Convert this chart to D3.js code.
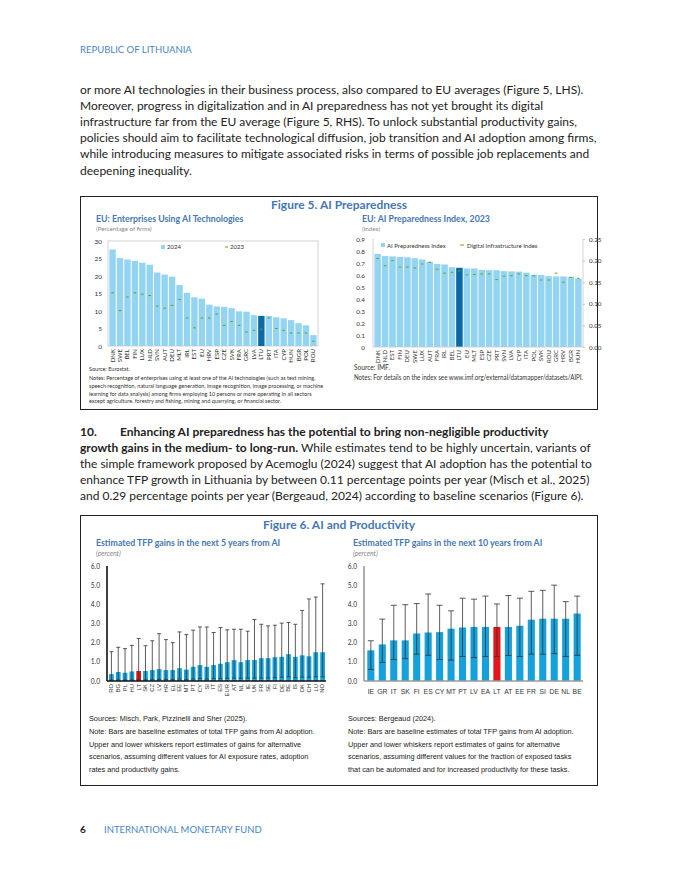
<!DOCTYPE html>
<html><head><meta charset="utf-8">
<script src="https://cdn.jsdelivr.net/npm/d3@7"></script>
<style>
html,body{margin:0;padding:0;background:#fff;}
svg{display:block;}
</style></head>
<body>
<svg id="page" width="680" height="880"></svg>
<script>
// ---------- DATA ----------
const f5lCountries = ["DNK","SWE","BEL","FIN","LUX","NLD","SVN","AUT","DEU","MLT","IRL","EST","EU","HRV","ESP","CZE","SVK","FRA","GRC","LVA","LTU","PRT","ITA","CYP","HUN","BGR","POL","ROU"];
const f5l2024 = [27.6,25.1,24.7,24.3,23.8,23.2,21.0,20.4,19.8,17.4,15.2,13.9,13.5,11.8,11.3,11.2,10.8,9.9,9.8,8.8,8.6,8.6,8.2,7.9,7.4,6.5,5.9,3.1];
const f5l2023 = [15.2,10.1,14.0,15.2,14.8,14.4,11.4,10.8,11.6,13.3,8.0,5.2,8.0,8.0,9.1,5.9,7.0,5.9,4.0,4.5,4.8,8.0,5.0,4.5,3.7,3.7,3.7,1.4];
const f5lTicks = [0,5,10,15,20,25,30];

const f5rCountries = ["DNK","NLD","EST","FIN","DEU","SWE","LUX","AUT","FRA","IRL","BEL","LTU","EU","MLT","ESP","CZE","PRT","SVN","LVA","CYP","ITA","POL","SVK","ROU","GRC","HRV","BGR","HUN"];
const f5rAIPI = [0.775,0.758,0.755,0.750,0.748,0.740,0.730,0.710,0.692,0.688,0.665,0.660,0.655,0.655,0.642,0.640,0.640,0.632,0.630,0.628,0.620,0.602,0.600,0.590,0.588,0.588,0.585,0.570];
const f5rDII = [0.205,0.188,0.200,0.185,0.185,0.183,0.192,0.196,0.180,0.171,0.173,0.176,0.167,0.168,0.169,0.169,0.156,0.164,0.165,0.169,0.165,0.165,0.155,0.155,0.171,0.150,0.161,0.159];
const f5rTicksL = [0,0.1,0.2,0.3,0.4,0.5,0.6,0.7,0.8,0.9];
const f5rTicksR = [0,0.05,0.10,0.15,0.20,0.25];

const f6lCountries = ["RO","BG","PL","HU","LT","SK","CZ","LV","HR","EL","EE","MT","PT","CY","SI","IT","ES","EUR","AT","NL","IE","UK","FR","SE","FI","DE","BE","IS","DK","CH","LU","NO"];
const f6lBase = [0.36,0.47,0.43,0.50,0.52,0.52,0.57,0.62,0.57,0.57,0.67,0.59,0.74,0.83,0.74,0.83,0.90,0.98,1.09,0.98,1.09,1.09,1.19,1.19,1.24,1.26,1.40,1.26,1.34,1.29,1.50,1.50];
const f6lLow  = [0.05,0.05,0.05,0.06,0.07,0.06,0.07,0.08,0.08,0.07,0.10,0.07,0.10,0.12,0.10,0.12,0.12,0.14,0.15,0.14,0.15,0.15,0.15,0.16,0.17,0.20,0.22,0.17,0.20,0.20,0.22,0.22];
const f6lHigh = [1.53,1.76,1.69,1.86,2.22,1.84,2.10,2.47,2.16,2.00,2.56,2.42,2.65,2.82,2.82,2.53,2.79,2.67,2.70,2.70,2.60,3.21,2.96,2.88,2.91,3.02,3.05,2.96,3.68,4.28,4.38,5.07];
const f6Ticks = [0,1,2,3,4,5,6];

const f6rCountries = ["IE","GR","IT","SK","FI","ES","CY","MT","PT","LV","EA","LT","AT","EE","FR","SI","DE","NL","BE"];
const f6rBase = [1.60,1.91,2.12,2.12,2.48,2.53,2.55,2.73,2.79,2.82,2.82,2.82,2.82,2.88,3.20,3.25,3.25,3.25,3.52];
const f6rLow  = [0.60,0.97,1.12,1.17,1.40,1.34,1.12,1.09,1.28,1.22,1.28,1.28,1.33,1.28,1.40,1.40,1.43,1.28,1.34];
const f6rHigh = [2.10,3.23,3.95,3.98,4.04,4.54,3.95,3.66,4.32,4.27,4.43,4.02,4.46,4.32,4.68,4.73,5.00,4.14,4.43];

// ---------- PAGE ----------
const svg = d3.select("#page");
const BODY = "Lato, 'Open Sans', sans-serif";
const SEG = "Lato, 'Open Sans', sans-serif";
const ARIAL = "'Liberation Sans', Arial, sans-serif";
const BLUE = "#4a86c4";
const TITLEBLUE = "#4677b0";

function txt(g, x, y, s, o = {}) {
  const t = g.append("text").attr("x", x).attr("y", y).text(s)
    .attr("font-family", o.ff || BODY).attr("font-size", o.fs || 11)
    .attr("fill", o.fill || "#222");
  if (o.fw) t.attr("font-weight", o.fw);
  if (o.fst) t.attr("font-style", o.fst);
  if (o.anchor) t.attr("text-anchor", o.anchor);
  return t;
}

txt(svg, 80, 53, "REPUBLIC OF LITHUANIA", {fs: 9.5, fill: BLUE});

const para1 = [
  "or more AI technologies in their business process, also compared to EU averages (Figure 5, LHS).",
  "Moreover, progress in digitalization and in AI preparedness has not yet brought its digital",
  "infrastructure far from the EU average (Figure 5, RHS). To unlock substantial productivity gains,",
  "policies should aim to facilitate technological diffusion, job transition and AI adoption among firms,",
  "while introducing measures to mitigate associated risks in terms of possible job replacements and",
  "deepening inequality."
];
para1.forEach((s, i) => txt(svg, 80, 94 + i * 16.1, s, {fs: 12}));

// paragraph 10
{
  const t1 = svg.append("text").attr("x", 80).attr("y", 436).attr("font-family", BODY).attr("font-size", 12).attr("fill", "#222");
  t1.append("tspan").attr("font-weight", "bold").text("10.");
  t1.append("tspan").attr("x", 120).attr("font-weight", "bold").text("Enhancing AI preparedness has the potential to bring non-negligible productivity");
  const t2 = svg.append("text").attr("x", 80).attr("y", 452).attr("font-family", BODY).attr("font-size", 12).attr("fill", "#222");
  t2.append("tspan").attr("font-weight", "bold").text("growth gains in the medium- to long-run.");
  t2.append("tspan").text(" While estimates tend to be highly uncertain, variants of");
  const rest = [
    "the simple framework proposed by Acemoglu (2024) suggest that AI adoption has the potential to",
    "enhance TFP growth in Lithuania by between 0.11 percentage points per year (Misch et al., 2025)",
    "and 0.29 percentage points per year (Bergeaud, 2024) according to baseline scenarios (Figure 6)."
  ];
  rest.forEach((s, i) => txt(svg, 80, 468 + i * 16.1, s, {fs: 12}));
}

// footer
txt(svg, 80, 833, "6", {fs: 10, fw: "bold", fill: "#222"});
txt(svg, 104, 833, "INTERNATIONAL MONETARY FUND", {fs: 9.5, fill: BLUE});

// ---------- FIGURE 5 ----------
svg.append("rect").attr("x", 80.5).attr("y", 196.5).attr("width", 517).attr("height", 213)
  .attr("fill", "none").attr("stroke", "#222").attr("stroke-width", 1);
txt(svg, 339, 209, "Figure 5. AI Preparedness", {fs: 12, fw: "bold", fill: TITLEBLUE, anchor: "middle", ff: SEG});

// Left panel
{
  const g = svg.append("g");
  txt(g, 96, 222, "EU: Enterprises Using AI Technologies", {fs: 8.8, fw: "bold", fill: TITLEBLUE, ff: SEG});
  txt(g, 96, 231, "(Percentage of firms)", {fs: 6.2, fill: "#888", ff: SEG});
  const x0 = 108, x1 = 318, yT = 241, yB = 346;
  const x = d3.scaleBand().domain(f5lCountries).range([x0 + 1, x1 - 1]).paddingInner(0.14).paddingOuter(0.05);
  const y = d3.scaleLinear().domain([0, 30]).range([yB, yT]);
  g.append("rect").attr("x", x0).attr("y", yT).attr("width", x1 - x0).attr("height", yB - yT)
    .attr("fill", "none").attr("stroke", "#c8c8c8").attr("stroke-width", 0.8);
  g.selectAll("rect.b").data(f5lCountries).join("rect").attr("class", "b")
    .attr("x", d => x(d)).attr("width", x.bandwidth())
    .attr("y", (d, i) => y(f5l2024[i])).attr("height", (d, i) => yB - y(f5l2024[i]))
    .attr("fill", d => d === "LTU" ? "#0b6aa6" : "#93d4f3");
  g.selectAll("line.d").data(f5lCountries).join("line").attr("class", "d")
    .attr("x1", d => x(d) + x.bandwidth() * 0.3).attr("x2", d => x(d) + x.bandwidth() * 0.7)
    .attr("y1", (d, i) => y(f5l2023[i])).attr("y2", (d, i) => y(f5l2023[i]))
    .attr("stroke", "#5f9c2e").attr("stroke-width", 1);
  const ya = g.append("g").attr("transform", `translate(${x0},0)`)
    .call(d3.axisLeft(y).tickValues(f5lTicks).tickSize(0).tickPadding(6));
  ya.select(".domain").remove();
  ya.selectAll("text").attr("font-family", SEG).attr("font-size", 6.5).attr("fill", "#333");
  const xa = g.append("g").attr("transform", `translate(0,${yB})`)
    .call(d3.axisBottom(x).tickSize(0).tickPadding(0));
  xa.select(".domain").remove();
  xa.selectAll("text").attr("font-family", SEG).attr("font-size", 6.1).attr("fill", "#333")
    .attr("transform", "rotate(-90)").attr("text-anchor", "end").attr("dx", "-3").attr("dy", "0.32em")
    .attr("x", 0).attr("y", 0);
  // legend
  g.append("rect").attr("x", 161).attr("y", 245).attr("width", 4).attr("height", 4).attr("fill", "#93d4f3");
  txt(g, 167, 249, "2024", {fs: 6, fill: "#333", ff: SEG});
  g.append("line").attr("x1", 225).attr("x2", 228).attr("y1", 247).attr("y2", 247).attr("stroke", "#7a9a2a").attr("stroke-width", 1);
  txt(g, 230, 249, "2023", {fs: 6, fill: "#333", ff: SEG});
  txt(g, 89, 371, "Source: Eurostat.", {fs: 5.5, fill: "#333", ff: SEG});
  const notes = [
    "Notes: Percentage of enterprises using at least one of the AI technologies (such as text mining,",
    "speech recognition, natural language generation, image recognition, image processing, or machine",
    "learning for data analysis) among firms employing 10 persons or more operating in all sectors",
    "except agriculture, forestry and fishing, mining and quarrying, or financial sector."
  ];
  notes.forEach((s, i) => txt(g, 89, 380 + i * 7.8, s, {fs: 5.5, fill: "#333", ff: SEG}));
}

// Right panel
{
  const g = svg.append("g");
  txt(g, 362, 222, "EU: AI Preparedness Index, 2023", {fs: 8.8, fw: "bold", fill: TITLEBLUE, ff: SEG});
  txt(g, 362, 231, "(Index)", {fs: 6.2, fill: "#888", ff: SEG});
  const x0 = 373, x1 = 583, yT = 239, yB = 347;
  const x = d3.scaleBand().domain(f5rCountries).range([x0 + 1, x1 - 1]).paddingInner(0.12).paddingOuter(0.05);
  const yL = d3.scaleLinear().domain([0, 0.9]).range([yB, yT]);
  const yR = d3.scaleLinear().domain([0, 0.25]).range([yB, yT]);
  g.selectAll("rect.b").data(f5rCountries).join("rect").attr("class", "b")
    .attr("x", d => x(d)).attr("width", x.bandwidth())
    .attr("y", (d, i) => yL(f5rAIPI[i])).attr("height", (d, i) => yB - yL(f5rAIPI[i]))
    .attr("fill", d => d === "LTU" ? "#0b6aa6" : "#93d4f3");
  g.selectAll("line.d").data(f5rCountries).join("line").attr("class", "d")
    .attr("x1", d => x(d) + x.bandwidth() * 0.3).attr("x2", d => x(d) + x.bandwidth() * 0.7)
    .attr("y1", (d, i) => yR(f5rDII[i])).attr("y2", (d, i) => yR(f5rDII[i]))
    .attr("stroke", "#6a9e2a").attr("stroke-width", 1);
  g.append("line").attr("x1", x0).attr("x2", x0).attr("y1", yT).attr("y2", yB).attr("stroke", "#c8c8c8").attr("stroke-width", 0.8);
  g.append("line").attr("x1", x1).attr("x2", x1).attr("y1", yT).attr("y2", yB).attr("stroke", "#c8c8c8").attr("stroke-width", 0.8);
  g.append("line").attr("x1", x0).attr("x2", x1).attr("y1", yB).attr("y2", yB).attr("stroke", "#c8c8c8").attr("stroke-width", 0.8);
  const fmtL = d => d === 0 ? "0" : d3.format(".1f")(d);
  const yla = g.append("g").attr("transform", `translate(${x0},0)`)
    .call(d3.axisLeft(yL).tickValues(f5rTicksL).tickFormat(fmtL).tickSize(0).tickPadding(8));
  yla.select(".domain").remove();
  yla.selectAll("text").attr("font-family", SEG).attr("font-size", 6.3).attr("fill", "#333");
  const yra = g.append("g").attr("transform", `translate(${x1},0)`)
    .call(d3.axisRight(yR).tickValues(f5rTicksR).tickFormat(d3.format(".2f")).tickSize(2).tickPadding(4));
  yra.select(".domain").remove();
  yra.selectAll("line").attr("stroke", "#c8c8c8");
  yra.selectAll("text").attr("font-family", SEG).attr("font-size", 6.3).attr("fill", "#333");
  const xa = g.append("g").attr("transform", `translate(0,${yB})`)
    .call(d3.axisBottom(x).tickSize(0).tickPadding(0));
  xa.select(".domain").remove();
  xa.selectAll("text").attr("font-family", SEG).attr("font-size", 6).attr("fill", "#333")
    .attr("transform", "rotate(-90)").attr("text-anchor", "end").attr("dx", "-3").attr("dy", "0.32em")
    .attr("x", 0).attr("y", 0);
  // legend
  g.append("rect").attr("x", 381).attr("y", 243).attr("width", 4).attr("height", 4).attr("fill", "#93d4f3");
  txt(g, 387, 247.5, "AI Preparedness Index", {fs: 6, fill: "#333", ff: SEG});
  g.append("line").attr("x1", 460).attr("x2", 464).attr("y1", 245).attr("y2", 245).attr("stroke", "#7a9a2a").attr("stroke-width", 1);
  txt(g, 467, 247.5, "Digital Infrastructure Index", {fs: 6, fill: "#333", ff: SEG});
  txt(g, 354, 370, "Source: IMF.", {fs: 6.6, fill: "#333", ff: SEG});
  txt(g, 354, 380, "Notes: For details on the index see www.imf.org/external/datamapper/datasets/AIPI.", {fs: 6.6, fill: "#333", ff: SEG})
    .attr("textLength", 229).attr("lengthAdjust", "spacingAndGlyphs");
}

// ---------- FIGURE 6 ----------
svg.append("rect").attr("x", 80.5).attr("y", 515.5).attr("width", 517).attr("height", 270)
  .attr("fill", "none").attr("stroke", "#222").attr("stroke-width", 1);
txt(svg, 339, 529, "Figure 6. AI and Productivity", {fs: 12, fw: "bold", fill: TITLEBLUE, anchor: "middle", ff: SEG});

function errorChart(g, cats, base, low, high, o) {
  const x = d3.scaleBand().domain(cats).range([o.x0 + o.padL, o.x1]).paddingInner(o.pin).paddingOuter(o.pout);
  const y = d3.scaleLinear().domain([0, 6]).range([o.yB, o.yT]);
  g.selectAll("rect.b").data(cats).join("rect").attr("class", "b")
    .attr("x", d => x(d)).attr("width", x.bandwidth())
    .attr("y", (d, i) => y(base[i])).attr("height", (d, i) => o.yB - y(base[i]))
    .attr("fill", d => d === "LT" ? "#e2161b" : "#15a2dc");
  const cw = o.cap;
  const eg = g.selectAll("g.e").data(cats).join("g").attr("class", "e")
    .attr("transform", d => `translate(${x(d) + x.bandwidth() / 2},0)`);
  eg.append("line").attr("y1", (d, i) => y(low[i])).attr("y2", (d, i) => y(high[i]))
    .attr("stroke", "#333").attr("stroke-width", 0.8);
  eg.append("line").attr("x1", -cw / 2).attr("x2", cw / 2).attr("y1", (d, i) => y(high[i])).attr("y2", (d, i) => y(high[i]))
    .attr("stroke", "#333").attr("stroke-width", 0.8);
  eg.append("line").attr("x1", -cw / 2).attr("x2", cw / 2).attr("y1", (d, i) => y(low[i])).attr("y2", (d, i) => y(low[i]))
    .attr("stroke", "#333").attr("stroke-width", 0.8);
  // axes
  g.append("line").attr("x1", o.x0).attr("x2", o.x0).attr("y1", o.yT).attr("y2", o.yB).attr("stroke", o.axisColor).attr("stroke-width", 1.6);
  g.append("line").attr("x1", o.x0).attr("x2", o.x1).attr("y1", o.yB).attr("y2", o.yB).attr("stroke", o.axisColor).attr("stroke-width", 1.6);
  const ya = g.append("g").attr("transform", `translate(${o.x0},0)`)
    .call(d3.axisLeft(y).tickValues(f6Ticks).tickFormat(d3.format(".1f")).tickSize(0).tickPadding(7));
  ya.select(".domain").remove();
  ya.selectAll("text").attr("font-family", SEG).attr("font-size", 6.6).attr("fill", "#333");
  const xa = g.append("g").attr("transform", `translate(0,${o.yB})`)
    .call(d3.axisBottom(x).tickSize(0).tickPadding(o.rot ? 0 : 8));
  xa.select(".domain").remove();
  const t = xa.selectAll("text").attr("font-family", ARIAL).attr("font-size", o.rot ? 5.9 : 6.8).attr("fill", "#333");
  if (o.rot) t.attr("transform", "rotate(-90)").attr("text-anchor", "end").attr("dx", "-3").attr("dy", "0.32em").attr("x", 0).attr("y", 0);
}

{
  const g = svg.append("g");
  txt(g, 96, 546, "Estimated TFP gains in the next 5 years from AI", {fs: 8.8, fw: "bold", fill: "#4677b0", ff: SEG});
  txt(g, 96, 556, "(percent)", {fs: 6.8, fst: "italic", fill: "#888", ff: SEG});
  errorChart(g, f6lCountries, f6lBase, f6lLow, f6lHigh,
    {x0: 107, x1: 326, padL: 1, yT: 566, yB: 681, pin: 0.3, pout: 0.15, cap: 4, axisColor: "#111", rot: true});
  const notes = [
    "Sources: Misch, Park, Pizzinelli and Sher (2025).",
    "Note: Bars are baseline estimates of total TFP gains from AI adoption.",
    "Upper and lower whiskers report estimates of gains for alternative",
    "scenarios, assuming different values for AI exposure rates, adoption",
    "rates and productivity gains."
  ];
  notes.forEach((s, i) => txt(g, 89, 721 + i * 12.8, s, {fs: 7.3, fill: "#222", ff: ARIAL}));
}
{
  const g = svg.append("g");
  txt(g, 353, 546, "Estimated TFP gains in the next 10 years from AI", {fs: 8.8, fw: "bold", fill: "#4677b0", ff: SEG});
  txt(g, 353, 556, "(percent)", {fs: 6.8, fst: "italic", fill: "#888", ff: SEG});
  errorChart(g, f6rCountries, f6rBase, f6rLow, f6rHigh,
    {x0: 364, x1: 583, padL: 1, yT: 566, yB: 681, pin: 0.38, pout: 0.2, cap: 6, axisColor: "#9a9a9a", rot: false});
  const notes = [
    "Sources: Bergeaud (2024).",
    "Note: Bars are baseline estimates of total TFP gains from AI adoption.",
    "Upper and lower whiskers report estimates of gains for alternative",
    "scenarios, assuming different values for the fraction of exposed tasks",
    "that can be automated and for increased productivity for these tasks."
  ];
  notes.forEach((s, i) => txt(g, 348, 721 + i * 12.8, s, {fs: 7.3, fill: "#222", ff: ARIAL}));
}
</script>
</body></html>
